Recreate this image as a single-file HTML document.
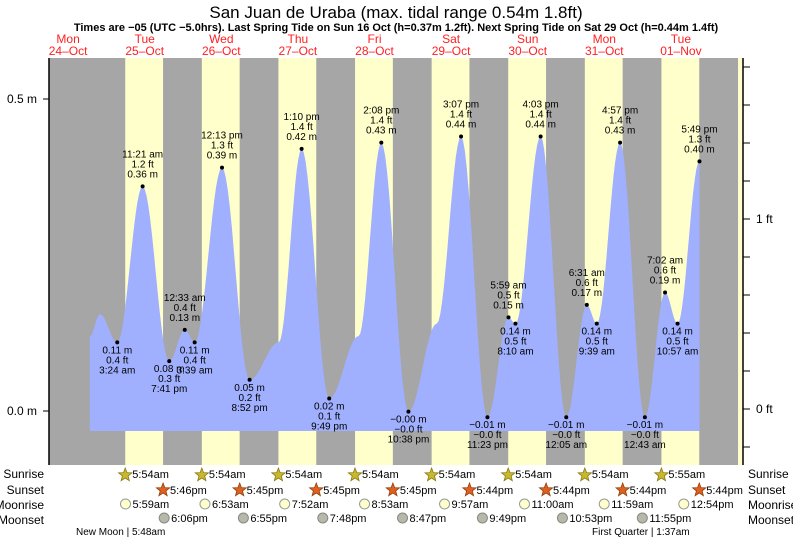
<!DOCTYPE html>
<html><head><meta charset="utf-8"><style>
body{margin:0;background:#fff;width:793px;height:539px;overflow:hidden}
svg{font-family:"Liberation Sans",sans-serif}
</style></head><body>
<svg id="chart" width="793" height="539" viewBox="0 0 793 539" xmlns="http://www.w3.org/2000/svg">
<text x="396" y="18" font-size="17" text-anchor="middle">San Juan de Uraba (max. tidal range 0.54m 1.8ft)</text>
<text x="396" y="31" font-size="11" font-weight="bold" text-anchor="middle">Times are −05 (UTC −5.0hrs). Last Spring Tide on Sun 16 Oct (h=0.37m 1.2ft). Next Spring Tide on Sat 29 Oct (h=0.44m 1.4ft)</text>
<g id="bg"></g><g id="water"></g><g id="marks"></g><g id="axes"></g><g id="bottom"></g>
</svg>
<script>
const tideDays=[-1,-1,0,0,0,1,1,1,1,2,2,2,3,3,3,4,4,4,5,5,5,6,6,6,6,7,7,7,7];
const tideTimes=["18:50","22:00","03:24","11:21","19:41","00:33","03:39","12:13","20:52","06:00","13:10","21:49","07:00","14:08","22:38","07:30","15:07","23:23","05:59","08:10","16:03","00:05","06:31","09:39","16:57","00:43","07:02","10:57","17:49"];
const tideHeights=[0.12,0.155,0.11,0.36,0.08,0.13,0.11,0.39,0.05,0.11,0.42,0.02,0.12,0.43,-0.001,0.14,0.44,-0.01,0.15,0.14,0.44,-0.01,0.17,0.14,0.43,-0.01,0.19,0.14,0.40];
const tideLabel=[0,0,1,1,1,1,1,1,1,0,1,1,0,1,1,0,1,1,1,1,1,1,1,1,1,1,1,1,1];
const tideTimeText=["","","3:24 am","11:21 am","7:41 pm","12:33 am","3:39 am","12:13 pm","8:52 pm","","1:10 pm","9:49 pm","","2:08 pm","10:38 pm","","3:07 pm","11:23 pm","5:59 am","8:10 am","4:03 pm","12:05 am","6:31 am","9:39 am","4:57 pm","12:43 am","7:02 am","10:57 am","5:49 pm"];
const dayNames=["Mon","Tue","Wed","Thu","Fri","Sat","Sun","Mon","Tue"];
const dayDates=["24–Oct","25–Oct","26–Oct","27–Oct","28–Oct","29–Oct","30–Oct","31–Oct","01–Nov"];
const sunrise=["5:54am","5:54am","5:54am","5:54am","5:54am","5:54am","5:54am","5:55am"];
const sunset=["5:46pm","5:45pm","5:45pm","5:45pm","5:44pm","5:44pm","5:44pm","5:44pm"];
const moonrise=["5:59am","6:53am","7:52am","8:53am","9:57am","11:00am","11:59am","12:54pm"];
const moonset=["6:06pm","6:55pm","7:48pm","8:47pm","9:49pm","10:53pm","11:55pm"];
const riseMin=[359,413,472,533,597,660,719,774];
const setMin=[1086,1135,1188,1247,1309,1373,1435];

const NS="http://www.w3.org/2000/svg";
const X0=106.4, DW=76.6;
const xT=(d,min)=>X0+(d+min/1440)*DW;
const yM=h=>411-h*624;
function el(t,a,p){const e=document.createElementNS(NS,t);for(const k in a)e.setAttribute(k,a[k]);p.appendChild(e);return e;}
function txt(x,y,s,p,o){const e=el("text",Object.assign({x:x,y:y,"font-size":10,"text-anchor":"middle"},o||{}),p);e.textContent=s;return e;}
const bg=document.getElementById("bg"),water=document.getElementById("water"),marks=document.getElementById("marks"),axes=document.getElementById("axes"),bot=document.getElementById("bottom");
const bgr=el("rect",{x:49,y:58,width:694,height:407,fill:"#a6a6a6"},bg);


for(let d=0;d<9;d++){
  const a=xT(d,354),b=Math.min(xT(d,1065),743);
  const r=el("rect",{x:a,y:58,width:Math.max(0,b-a),height:407,fill:"#ffffcc"},bg);
  
  
}
for(let i=0;i<9;i++){
  const x=X0+(i-1)*DW+DW/2;
  const t1=txt(x,43,dayNames[i],bg,{fill:"#ff2020","font-size":12});
  
  
  const t2=txt(x,55,dayDates[i],bg,{fill:"#ff2020","font-size":12});
  
  
}
const pts=tideDays.map((d,i)=>{const [h,m]=tideTimes[i].split(":").map(Number);return [xT(d,h*60+m),tideHeights[i]];});
let path="M"+pts[0][0].toFixed(1)+",431 L"+pts[0][0].toFixed(1)+","+yM(pts[0][1]).toFixed(1);
for(let i=0;i<pts.length-1;i++){
  const [xa,ha]=pts[i],[xb,hb]=pts[i+1];
  for(let s=1;s<=14;s++){const f=s/14,x=xa+(xb-xa)*f,h=ha+(hb-ha)*(1-Math.cos(Math.PI*f))/2;path+=" L"+x.toFixed(1)+","+yM(h).toFixed(1);}
}
path+=" L"+pts[pts.length-1][0].toFixed(1)+",431 Z";
const wp=el("path",{d:path,fill:"#a0b0ff"},water);


function addMark(x,h,tt,isHigh){
  const y=yM(h);
  const c=el("circle",{cx:x,cy:y,r:2,fill:"#000"},marks);
  
  
  const mtxt=(h<0?"−":"")+Math.abs(h).toFixed(2)+" m", ft=(h<0?"−":"")+Math.abs(h/0.3048).toFixed(1)+" ft";
  const lines=isHigh?[tt,ft,mtxt]:[mtxt,ft,tt];
  const y0=isHigh?y-29:y+11;
  lines.forEach((s,k)=>{const t=txt(x,y0+k*10,s,marks);});
}
for(let i=0;i<pts.length;i++){
  if(!tideLabel[i])continue;
  const prev=tideHeights[i-1],next=i<pts.length-1?tideHeights[i+1]:-1;
  const isHigh=tideHeights[i]>prev&&tideHeights[i]>next;
  addMark(pts[i][0],tideHeights[i],tideTimeText[i],isHigh);
}
const la=el("line",{x1:49,y1:58,x2:49,y2:465,stroke:"#000","stroke-width":1.5},axes);

[[0,"0.0 m"],[0.5,"0.5 m"]].forEach(([v,s])=>{const y=yM(v);el("line",{x1:43,y1:y,x2:49,y2:y,stroke:"#000"},axes);const t=txt(37,y+4,s,axes,{"text-anchor":"end","font-size":12});});
const ra=el("line",{x1:743,y1:58,x2:743,y2:465,stroke:"#000","stroke-width":1.5},axes);

for(let f=-0.2;f<=1.81;f+=0.2){const y=409-f*190;if(y<58||y>465)continue;el("line",{x1:743,y1:y,x2:750,y2:y,stroke:"#000"},axes);}
[[0,"0 ft"],[1,"1 ft"]].forEach(([v,s])=>{const y=409-v*190;const t=txt(756,y+4,s,axes,{"text-anchor":"start","font-size":12});});
[["Sunrise",478],["Sunset",494],["Moonrise",509],["Moonset",524]].forEach(([s,y])=>{
  const a=txt(44,y,s,bot,{"text-anchor":"end","font-size":12});
  const b=txt(748,y,s,bot,{"text-anchor":"start","font-size":12});
});
function star(cx,cy,fill,stroke){let d="";for(let k=0;k<10;k++){const r=k%2?3:7,a=-Math.PI/2+k*Math.PI/5;d+=(k?"L":"M")+(cx+r*Math.cos(a)).toFixed(1)+","+(cy+r*Math.sin(a)).toFixed(1);}return el("path",{d:d+"Z",fill:fill,stroke:stroke,"stroke-width":0.8},bot);}
for(let d=0;d<8;d++){
  let x=xT(d,354);let s=star(x,475,"#c8b830","#8a7a10");
  let t=txt(x+7,478,sunrise[d],bot,{"text-anchor":"start","font-size":11});
  x=xT(d,1065);s=star(x,490,"#e06020","#904010");
  t=txt(x+7,494,sunset[d],bot,{"text-anchor":"start","font-size":11});
  x=xT(d,riseMin[d]);let c=el("circle",{cx:x,cy:504,r:5,fill:"#ffffcc",stroke:"#999"},bot);
  t=txt(x+7,508,moonrise[d],bot,{"text-anchor":"start","font-size":11});
  if(d<7){x=xT(d,setMin[d]);c=el("circle",{cx:x,cy:518,r:5,fill:"#b8b8a8",stroke:"#888"},bot);
  t=txt(x+7,522,moonset[d],bot,{"text-anchor":"start","font-size":11});}
}
let nm=txt(76,535,"New Moon | 5:48am",bot,{"text-anchor":"start","font-size":10});
let fq=txt(592,535,"First Quarter | 1:37am",bot,{"text-anchor":"start","font-size":10});
</script>
</body></html>
